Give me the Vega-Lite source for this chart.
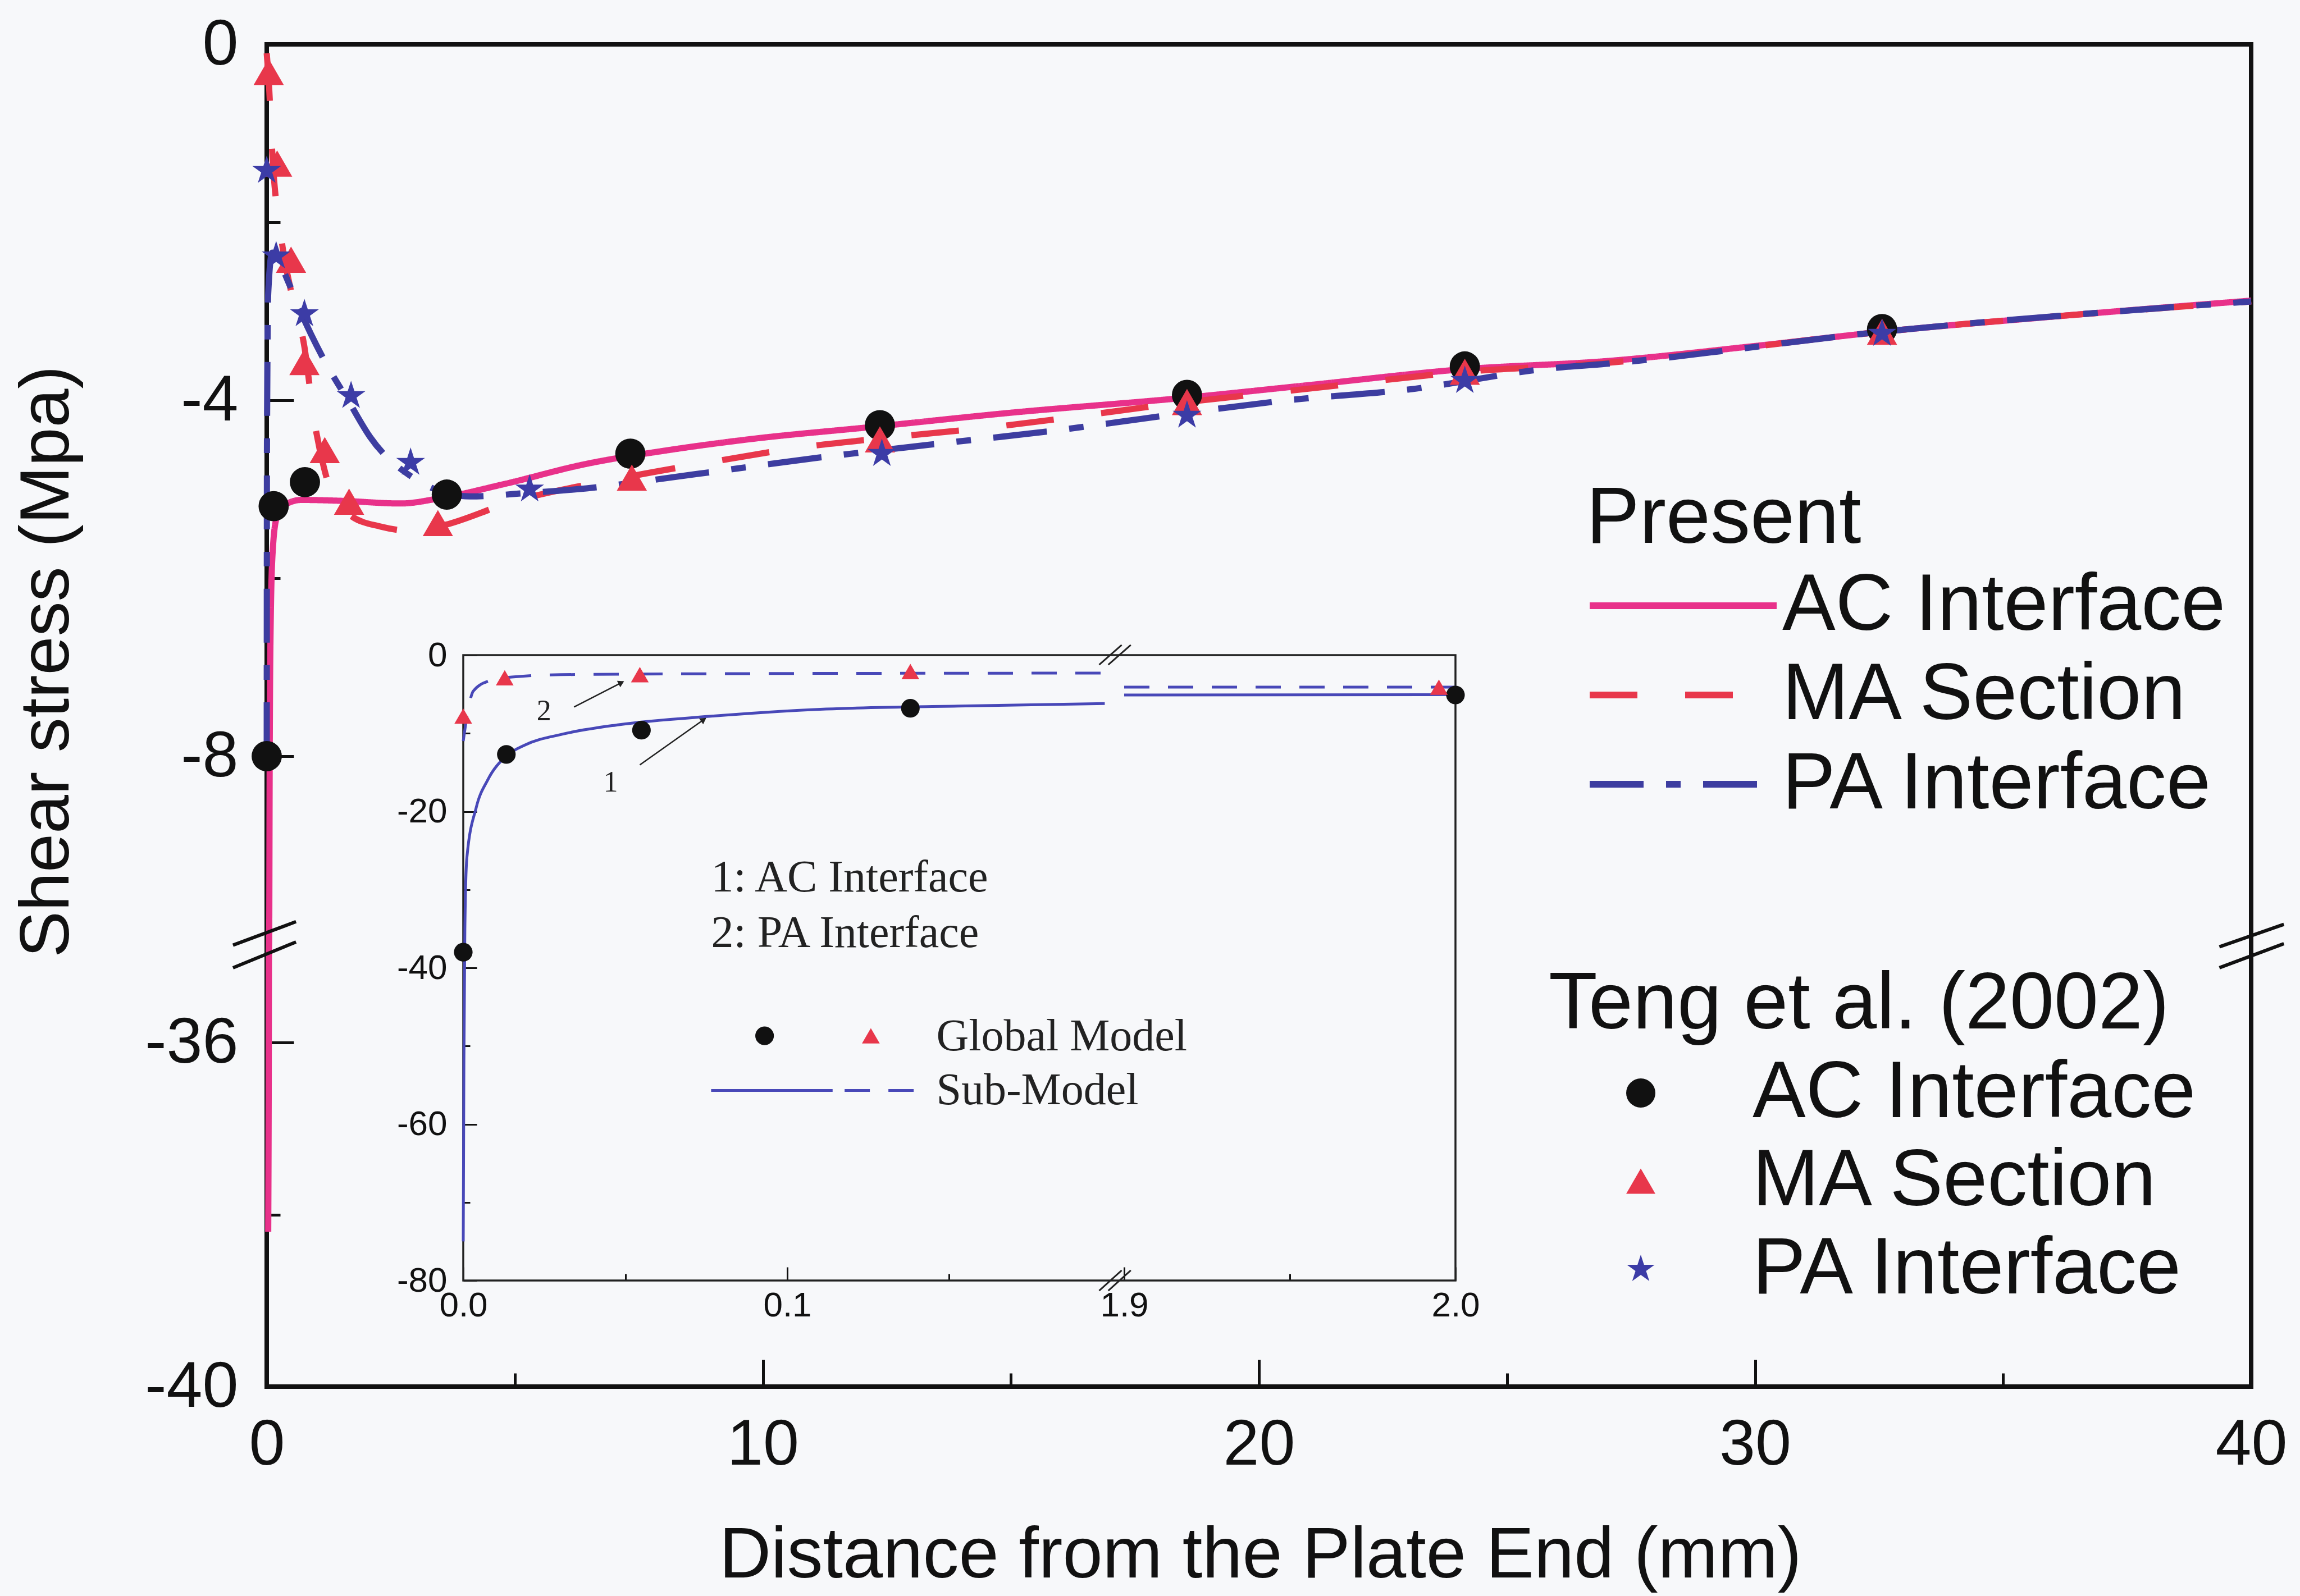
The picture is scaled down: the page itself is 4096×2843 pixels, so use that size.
{
  "$schema": "https://vega.github.io/schema/vega-lite/v6.json",
  "width": 3534,
  "height": 2391,
  "autosize": {"type": "none"},
  "padding": {"left": 475, "top": 79, "right": 87, "bottom": 373},
  "background": "#F7F8FA",
  "config": {
    "font": "Liberation Sans",
    "view": {"stroke": "#111111", "strokeWidth": 8},
    "axis": {"domain": false, "grid": false, "tickColor": "#111111", "labelColor": "#111111", "titleColor": "#111111", "titleFontWeight": "normal", "labelFont": "Liberation Sans", "titleFont": "Liberation Sans", "labelFlush": false, "labelOverlap": false, "labelLimit": 2000, "titleLimit": 4000},
    "legend": {"titleFontWeight": "normal", "titleColor": "#111111", "labelColor": "#111111", "titleFont": "Liberation Sans", "labelFont": "Liberation Sans", "padding": 0, "labelLimit": 2000, "titleLimit": 2000}
  },
  "layer": [
    {
      "layer": [
        {
          "data": {"values": [
            {"present": "AC Interface", "x": 0.03, "y": -38.2}, {"present": "AC Interface", "x": 0.04, "y": -36.5}, {"present": "AC Interface", "x": 0.045, "y": -35}, {"present": "AC Interface", "x": 0.05, "y": -10}, {"present": "AC Interface", "x": 0.06, "y": -8}, {"present": "AC Interface", "x": 0.08, "y": -6.5}, {"present": "AC Interface", "x": 0.12, "y": -5.7}, {"present": "AC Interface", "x": 0.2, "y": -5.32}, {"present": "AC Interface", "x": 0.35, "y": -5.18}, {"present": "AC Interface", "x": 0.7, "y": -5.12}, {"present": "AC Interface", "x": 1.5, "y": -5.13}, {"present": "AC Interface", "x": 2.7, "y": -5.16}, {"present": "AC Interface", "x": 3.5, "y": -5.1}, {"present": "AC Interface", "x": 4.8, "y": -4.94}, {"present": "AC Interface", "x": 6.4, "y": -4.72}, {"present": "AC Interface", "x": 8.1, "y": -4.56}, {"present": "AC Interface", "x": 9.7, "y": -4.44}, {"present": "AC Interface", "x": 12.2, "y": -4.3}, {"present": "AC Interface", "x": 15, "y": -4.14}, {"present": "AC Interface", "x": 18.55, "y": -3.97}, {"present": "AC Interface", "x": 21, "y": -3.83}, {"present": "AC Interface", "x": 24.15, "y": -3.65}, {"present": "AC Interface", "x": 27, "y": -3.56}, {"present": "AC Interface", "x": 30, "y": -3.39}, {"present": "AC Interface", "x": 32.56, "y": -3.23}, {"present": "AC Interface", "x": 36, "y": -3.06}, {"present": "AC Interface", "x": 40, "y": -2.88},
            {"present": "MA Section", "x": 0, "y": -0.1}, {"present": "MA Section", "x": 0.05, "y": -0.5}, {"present": "MA Section", "x": 0.1, "y": -1.1}, {"present": "MA Section", "x": 0.3, "y": -2.2}, {"present": "MA Section", "x": 0.5, "y": -2.8}, {"present": "MA Section", "x": 0.76, "y": -3.4}, {"present": "MA Section", "x": 0.95, "y": -4.2}, {"present": "MA Section", "x": 1.15, "y": -4.75}, {"present": "MA Section", "x": 1.35, "y": -5.1}, {"present": "MA Section", "x": 1.7, "y": -5.3}, {"present": "MA Section", "x": 2.3, "y": -5.42}, {"present": "MA Section", "x": 3.0, "y": -5.47}, {"present": "MA Section", "x": 3.6, "y": -5.4}, {"present": "MA Section", "x": 4.9, "y": -5.15}, {"present": "MA Section", "x": 7.1, "y": -4.88}, {"present": "MA Section", "x": 9.0, "y": -4.69}, {"present": "MA Section", "x": 10.9, "y": -4.52}, {"present": "MA Section", "x": 12.36, "y": -4.43}, {"present": "MA Section", "x": 14.8, "y": -4.29}, {"present": "MA Section", "x": 18.55, "y": -4.02}, {"present": "MA Section", "x": 21, "y": -3.87}, {"present": "MA Section", "x": 24.15, "y": -3.68}, {"present": "MA Section", "x": 27, "y": -3.58}, {"present": "MA Section", "x": 32.56, "y": -3.23}, {"present": "MA Section", "x": 40, "y": -2.89},
            {"present": "PA Interface", "x": 0, "y": -8.0}, {"present": "PA Interface", "x": 0.005, "y": -4.5}, {"present": "PA Interface", "x": 0.03, "y": -2.8}, {"present": "PA Interface", "x": 0.11, "y": -2.34}, {"present": "PA Interface", "x": 0.45, "y": -2.69}, {"present": "PA Interface", "x": 0.68, "y": -3.0}, {"present": "PA Interface", "x": 1.14, "y": -3.53}, {"present": "PA Interface", "x": 1.67, "y": -4.03}, {"present": "PA Interface", "x": 2.08, "y": -4.41}, {"present": "PA Interface", "x": 2.95, "y": -4.87}, {"present": "PA Interface", "x": 4.1, "y": -5.08}, {"present": "PA Interface", "x": 5.3, "y": -5.04}, {"present": "PA Interface", "x": 6.25, "y": -5.0}, {"present": "PA Interface", "x": 8.65, "y": -4.83}, {"present": "PA Interface", "x": 11.05, "y": -4.65}, {"present": "PA Interface", "x": 13.35, "y": -4.5}, {"present": "PA Interface", "x": 15.75, "y": -4.35}, {"present": "PA Interface", "x": 18.55, "y": -4.14}, {"present": "PA Interface", "x": 20.57, "y": -4.0}, {"present": "PA Interface", "x": 23.0, "y": -3.88}, {"present": "PA Interface", "x": 25.9, "y": -3.64}, {"present": "PA Interface", "x": 27, "y": -3.59}, {"present": "PA Interface", "x": 32.56, "y": -3.23}, {"present": "PA Interface", "x": 40, "y": -2.89}
          ]},
          "mark": {"type": "line", "strokeWidth": 11, "interpolate": "monotone", "strokeCap": "butt"},
          "encoding": {
            "x": {"field": "x", "type": "quantitative", "scale": {"domain": [0, 40], "nice": false, "zero": false},
              "axis": {"orient": "bottom", "values": [0, 10, 20, 30, 40], "tickSize": -48, "tickWidth": 5, "labelFontSize": 115, "labelPadding": 151, "labelBaseline": "middle", "title": "Distance from the Plate End (mm)", "titleFontSize": 128, "titleX": 1769, "titleY": 301, "titleAlign": "center", "titleBaseline": "middle"}},
            "y": {"field": "y", "type": "quantitative", "scale": {"domain": [-40, -35, -10, 0], "range": [2391, 1625, 1585, 0], "nice": false, "zero": false},
              "axis": {"orient": "left", "values": [0, -4, -8, -36, -40], "labelExpr": "'' + datum.value", "tickSize": -48, "tickWidth": 5, "labelFontSize": 115, "labelPadding": 99, "title": "Shear stress (Mpa)", "titleFontSize": 124, "titleX": -391, "titleY": 1099, "titleAngle": 270, "titleAlign": "center", "titleBaseline": "middle"}},
            "color": {"field": "present", "type": "nominal", "scale": {"domain": ["AC Interface", "MA Section", "PA Interface"], "range": ["#E8318A", "#E8374B", "#3D3DA0"]},
              "legend": {"title": "Present", "orient": "none", "legendX": 2350, "legendY": 776, "titleFontSize": 142, "labelFontSize": 142, "symbolSize": 110889, "symbolStrokeWidth": 12, "clipHeight": 110, "rowPadding": 17, "titlePadding": 27, "labelOffset": 4, "symbolOffset": 0}},
            "strokeDash": {"field": "present", "type": "nominal", "scale": {"domain": ["AC Interface", "MA Section", "PA Interface"], "range": [[1, 0], [85, 85], [96, 40, 26, 40]]},
              "legend": {"title": "Present", "orient": "none", "legendX": 2350, "legendY": 776, "titleFontSize": 142, "labelFontSize": 142, "symbolSize": 110889, "symbolStrokeWidth": 12, "clipHeight": 110, "rowPadding": 17, "titlePadding": 27, "labelOffset": 4, "symbolOffset": 0}}
          }
        },
        {
          "data": {"values": [
            {"teng": "AC Interface", "x": 0.0, "y": -8.0}, {"teng": "AC Interface", "x": 0.14, "y": -5.19}, {"teng": "AC Interface", "x": 0.77, "y": -4.92}, {"teng": "AC Interface", "x": 3.63, "y": -5.06}, {"teng": "AC Interface", "x": 7.33, "y": -4.6}, {"teng": "AC Interface", "x": 12.36, "y": -4.28}, {"teng": "AC Interface", "x": 18.55, "y": -3.94}, {"teng": "AC Interface", "x": 24.15, "y": -3.62}, {"teng": "AC Interface", "x": 32.56, "y": -3.2},
            {"teng": "MA Section", "x": 0.04, "y": -0.31}, {"teng": "MA Section", "x": 0.21, "y": -1.34}, {"teng": "MA Section", "x": 0.49, "y": -2.42}, {"teng": "MA Section", "x": 0.76, "y": -3.57}, {"teng": "MA Section", "x": 1.17, "y": -4.56}, {"teng": "MA Section", "x": 1.66, "y": -5.14}, {"teng": "MA Section", "x": 3.45, "y": -5.38}, {"teng": "MA Section", "x": 7.36, "y": -4.87}, {"teng": "MA Section", "x": 12.36, "y": -4.44}, {"teng": "MA Section", "x": 18.55, "y": -4.02}, {"teng": "MA Section", "x": 24.15, "y": -3.68}, {"teng": "MA Section", "x": 32.56, "y": -3.23},
            {"teng": "PA Interface", "x": 0.0, "y": -1.42}, {"teng": "PA Interface", "x": 0.19, "y": -2.38}, {"teng": "PA Interface", "x": 0.76, "y": -3.03}, {"teng": "PA Interface", "x": 1.7, "y": -3.95}, {"teng": "PA Interface", "x": 2.9, "y": -4.7}, {"teng": "PA Interface", "x": 5.3, "y": -5.0}, {"teng": "PA Interface", "x": 12.4, "y": -4.6}, {"teng": "PA Interface", "x": 18.55, "y": -4.17}, {"teng": "PA Interface", "x": 24.15, "y": -3.78}, {"teng": "PA Interface", "x": 32.56, "y": -3.25}
          ]},
          "mark": {"type": "point", "filled": true, "opacity": 1, "size": 2900, "strokeWidth": 0},
          "encoding": {
            "x": {"field": "x", "type": "quantitative", "scale": {"domain": [0, 40], "nice": false, "zero": false}, "axis": null},
            "y": {"field": "y", "type": "quantitative", "scale": {"domain": [-40, -35, -10, 0], "range": [2391, 1625, 1585, 0], "nice": false, "zero": false}, "axis": null},
            "color": {"field": "teng", "type": "nominal", "scale": {"domain": ["AC Interface", "MA Section", "PA Interface"], "range": ["#111111", "#E8374B", "#3C3CA6"]},
              "legend": {"title": "Teng et al. (2002)", "orient": "none", "legendX": 2283, "legendY": 1641, "titleFontSize": 142, "labelFontSize": 142, "symbolSize": 2700, "clipHeight": 110, "rowPadding": 15, "titlePadding": 30, "symbolOffset": 93, "labelOffset": 128}},
            "shape": {"field": "teng", "type": "nominal", "scale": {"domain": ["AC Interface", "MA Section", "PA Interface"], "range": ["circle", "triangle-up", "M0,-1L0.2245,-0.309L0.9511,-0.309L0.3633,0.118L0.5878,0.809L0,0.382L-0.5878,0.809L-0.3633,0.118L-0.9511,-0.309L-0.2245,-0.309Z"]},
              "legend": {"title": "Teng et al. (2002)", "orient": "none", "legendX": 2283, "legendY": 1641, "titleFontSize": 142, "labelFontSize": 142, "symbolSize": 2700, "clipHeight": 110, "rowPadding": 15, "titlePadding": 30, "symbolOffset": 93, "labelOffset": 128}}
          }
        },
        {
          "data": {"values": [{}]},
          "mark": {"type": "rule", "stroke": "#111111", "strokeWidth": 6},
          "encoding": {
            "x": {"datum": -0.68, "type": "quantitative", "scale": {"domain": [0, 40], "nice": false, "zero": false},
              "axis": {"orient": "bottom", "values": [5, 15, 25, 35], "tickSize": -24, "tickWidth": 5, "labels": false, "title": null}},
            "x2": {"datum": 0.59},
            "y": {"datum": -35.13, "type": "quantitative", "scale": {"domain": [-40, -35, -10, 0], "range": [2391, 1625, 1585, 0], "nice": false, "zero": false},
              "axis": {"orient": "left", "values": [-2, -6, -38], "tickSize": -24, "tickWidth": 5, "labels": false, "title": null}},
            "y2": {"datum": -18.7}
          }
        },
        {
          "data": {"values": [{}]},
          "mark": {"type": "rule", "stroke": "#111111", "strokeWidth": 6},
          "encoding": {
            "x": {"datum": -0.68, "type": "quantitative", "scale": {"domain": [0, 40], "nice": false, "zero": false}, "axis": null},
            "x2": {"datum": 0.59},
            "y": {"datum": -22.25, "type": "quantitative", "scale": {"domain": [-40, -35, -10, 0], "range": [2391, 1625, 1585, 0], "nice": false, "zero": false}, "axis": null},
            "y2": {"datum": -9.86}
          }
        },
        {
          "data": {"values": [{}]},
          "mark": {"type": "rule", "stroke": "#111111", "strokeWidth": 6},
          "encoding": {
            "x": {"datum": 39.36, "type": "quantitative", "scale": {"domain": [0, 40], "nice": false, "zero": false}, "axis": null},
            "x2": {"datum": 40.66},
            "y": {"datum": -35.13, "type": "quantitative", "scale": {"domain": [-40, -35, -10, 0], "range": [2391, 1625, 1585, 0], "nice": false, "zero": false}, "axis": null},
            "y2": {"datum": -20.6}
          }
        },
        {
          "data": {"values": [{}]},
          "mark": {"type": "rule", "stroke": "#111111", "strokeWidth": 6},
          "encoding": {
            "x": {"datum": 39.36, "type": "quantitative", "scale": {"domain": [0, 40], "nice": false, "zero": false}, "axis": null},
            "x2": {"datum": 40.66},
            "y": {"datum": -24.1, "type": "quantitative", "scale": {"domain": [-40, -35, -10, 0], "range": [2391, 1625, 1585, 0], "nice": false, "zero": false}, "axis": null},
            "y2": {"datum": -9.89}
          }
        }
      ],
      "resolve": {"scale": {"color": "independent", "strokeDash": "independent", "shape": "independent"}, "axis": {"x": "independent", "y": "independent"}}
    },
    {
      "layer": [
        {
          "data": {"values": [{}]},
          "mark": {"type": "rect", "filled": false, "stroke": "#222222", "strokeWidth": 3.5},
          "encoding": {
            "x": {"datum": 0, "type": "quantitative", "scale": {"domain": [0, 0.2, 1.9, 2.0], "range": [350, 1504, 1527, 2117], "nice": false, "zero": false},
              "axis": {"orient": "bottom", "offset": -189, "values": [0, 0.1, 1.9, 2.0], "format": ".1f", "tickSize": -24, "tickWidth": 3, "labelFontSize": 62, "labelPadding": 68, "labelBaseline": "middle", "title": null}},
            "x2": {"datum": 2.0},
            "y": {"datum": 0, "type": "quantitative", "scale": {"domain": [-80, 0], "range": [2202, 1088], "nice": false, "zero": false},
              "axis": {"orient": "left", "offset": -350, "values": [0, -20, -40, -60, -80], "labelExpr": "'' + datum.value", "tickSize": -24, "tickWidth": 3, "labelFontSize": 62, "labelPadding": 53, "title": null}},
            "y2": {"datum": -80}
          }
        },
        {
          "data": {"values": [{}]},
          "mark": {"type": "rule", "stroke": "#222222", "strokeWidth": 3},
          "encoding": {
            "x": {"datum": 0.19627, "type": "quantitative", "scale": {"domain": [0, 0.2, 1.9, 2.0], "range": [350, 1504, 1527, 2117], "nice": false, "zero": false},
              "axis": {"orient": "bottom", "offset": -189, "values": [0.05, 0.15, 1.95], "tickSize": -12, "tickWidth": 3, "labels": false, "title": null}},
            "x2": {"datum": 1.575},
            "y": {"datum": -1.23, "type": "quantitative", "scale": {"domain": [-80, 0], "range": [2202, 1088], "nice": false, "zero": false},
              "axis": {"orient": "left", "offset": -350, "values": [-10, -30, -50, -70], "tickSize": -12, "tickWidth": 3, "labels": false, "title": null}},
            "y2": {"datum": 1.3}
          }
        },
        {
          "data": {"values": [{}]},
          "mark": {"type": "rule", "stroke": "#222222", "strokeWidth": 3},
          "encoding": {
            "x": {"datum": 0.19908, "type": "quantitative", "axis": null},
            "x2": {"datum": 1.902},
            "y": {"datum": -1.23, "type": "quantitative", "axis": null},
            "y2": {"datum": 1.3}
          }
        },
        {
          "data": {"values": [{}]},
          "mark": {"type": "rule", "stroke": "#222222", "strokeWidth": 3},
          "encoding": {
            "x": {"datum": 0.19627, "type": "quantitative", "axis": null},
            "x2": {"datum": 1.575},
            "y": {"datum": -81.3, "type": "quantitative", "axis": null},
            "y2": {"datum": -78.7}
          }
        },
        {
          "data": {"values": [{}]},
          "mark": {"type": "rule", "stroke": "#222222", "strokeWidth": 3},
          "encoding": {
            "x": {"datum": 0.19908, "type": "quantitative", "axis": null},
            "x2": {"datum": 1.902},
            "y": {"datum": -81.3, "type": "quantitative", "axis": null},
            "y2": {"datum": -78.7}
          }
        },
        {
          "data": {"values": [
            {"seg": "a", "x": 0, "y": -75}, {"seg": "a", "x": 0.0002, "y": -52}, {"seg": "a", "x": 0.0005, "y": -35}, {"seg": "a", "x": 0.0011, "y": -26}, {"seg": "a", "x": 0.004, "y": -19.5}, {"seg": "a", "x": 0.0075, "y": -16}, {"seg": "a", "x": 0.0133, "y": -12.9}, {"seg": "a", "x": 0.019, "y": -11.5}, {"seg": "a", "x": 0.0307, "y": -10.1}, {"seg": "a", "x": 0.048, "y": -8.9}, {"seg": "a", "x": 0.077, "y": -7.8}, {"seg": "a", "x": 0.112, "y": -6.9}, {"seg": "a", "x": 0.155, "y": -6.5}, {"seg": "a", "x": 0.198, "y": -6.2},
            {"seg": "b", "x": 1.9, "y": -5.1}, {"seg": "b", "x": 2.0, "y": -5.05}
          ]},
          "mark": {"type": "line", "stroke": "#4848B8", "strokeWidth": 5, "interpolate": "monotone"},
          "encoding": {
            "x": {"field": "x", "type": "quantitative", "axis": null},
            "y": {"field": "y", "type": "quantitative", "axis": null},
            "detail": {"field": "seg"}
          }
        },
        {
          "data": {"values": [
            {"seg": "a", "x": 0, "y": -11}, {"seg": "a", "x": 0.0015, "y": -7}, {"seg": "a", "x": 0.0031, "y": -4.6}, {"seg": "a", "x": 0.008, "y": -3.3}, {"seg": "a", "x": 0.015, "y": -2.8}, {"seg": "a", "x": 0.03, "y": -2.5}, {"seg": "a", "x": 0.1, "y": -2.35}, {"seg": "a", "x": 0.198, "y": -2.3},
            {"seg": "b", "x": 1.9, "y": -4.1}, {"seg": "b", "x": 2.0, "y": -4.1}
          ]},
          "mark": {"type": "line", "stroke": "#4848B8", "strokeWidth": 5, "strokeDash": [45, 33], "interpolate": "monotone"},
          "encoding": {
            "x": {"field": "x", "type": "quantitative", "axis": null},
            "y": {"field": "y", "type": "quantitative", "axis": null},
            "detail": {"field": "seg"}
          }
        },
        {
          "data": {"values": [
            {"x": 0.0, "y": -38.0}, {"x": 0.0133, "y": -12.7}, {"x": 0.055, "y": -9.6}, {"x": 0.138, "y": -6.8}, {"x": 2.0, "y": -5.1}
          ]},
          "mark": {"type": "point", "shape": "circle", "filled": true, "opacity": 1, "color": "#111111", "size": 1100, "strokeWidth": 0},
          "encoding": {
            "x": {"field": "x", "type": "quantitative", "axis": null},
            "y": {"field": "y", "type": "quantitative", "axis": null}
          }
        },
        {
          "data": {"values": [
            {"x": 0.0, "y": -7.8}, {"x": 0.0128, "y": -2.9}, {"x": 0.0545, "y": -2.5}, {"x": 0.138, "y": -2.1}, {"x": 1.995, "y": -4.1}
          ]},
          "mark": {"type": "point", "shape": "triangle-up", "filled": true, "opacity": 1, "color": "#E8374B", "size": 1000, "strokeWidth": 0},
          "encoding": {
            "x": {"field": "x", "type": "quantitative", "axis": null},
            "y": {"field": "y", "type": "quantitative", "axis": null}
          }
        },
        {
          "data": {"values": [{}]},
          "mark": {"type": "point", "shape": "circle", "filled": true, "opacity": 1, "color": "#111111", "size": 1100, "strokeWidth": 0},
          "encoding": {"x": {"datum": 0.093, "type": "quantitative", "axis": null}, "y": {"datum": -48.7, "type": "quantitative", "axis": null}}
        },
        {
          "data": {"values": [{}]},
          "mark": {"type": "point", "shape": "triangle-up", "filled": true, "opacity": 1, "color": "#E8374B", "size": 1000, "strokeWidth": 0},
          "encoding": {"x": {"datum": 0.1258, "type": "quantitative", "axis": null}, "y": {"datum": -48.7, "type": "quantitative", "axis": null}}
        },
        {
          "data": {"values": [{}]},
          "mark": {"type": "rule", "stroke": "#4848B8", "strokeWidth": 5},
          "encoding": {"x": {"datum": 0.0765, "type": "quantitative", "axis": null}, "x2": {"datum": 0.114}, "y": {"datum": -55.7, "type": "quantitative", "axis": null}}
        },
        {
          "data": {"values": [{}]},
          "mark": {"type": "rule", "stroke": "#4848B8", "strokeWidth": 5, "strokeDash": [45, 33]},
          "encoding": {"x": {"datum": 0.1177, "type": "quantitative", "axis": null}, "x2": {"datum": 0.1408}, "y": {"datum": -55.7, "type": "quantitative", "axis": null}}
        },
        {
          "data": {"values": [{}]},
          "mark": {"type": "rule", "stroke": "#222222", "strokeWidth": 2.5},
          "encoding": {"x": {"datum": 0.0342, "type": "quantitative", "axis": null}, "x2": {"datum": 0.0493}, "y": {"datum": -6.64, "type": "quantitative", "axis": null}, "y2": {"datum": -3.42}}
        },
        {
          "data": {"values": [{}]},
          "mark": {"type": "point", "shape": "triangle-right", "filled": true, "opacity": 1, "color": "#222222", "size": 160, "strokeWidth": 0, "angle": -27},
          "encoding": {"x": {"datum": 0.0488, "type": "quantitative", "axis": null}, "y": {"datum": -3.52, "type": "quantitative", "axis": null}}
        },
        {
          "data": {"values": [{}]},
          "mark": {"type": "rule", "stroke": "#222222", "strokeWidth": 2.5},
          "encoding": {"x": {"datum": 0.0545, "type": "quantitative", "axis": null}, "x2": {"datum": 0.0748}, "y": {"datum": -14.04, "type": "quantitative", "axis": null}, "y2": {"datum": -8.08}}
        },
        {
          "data": {"values": [{}]},
          "mark": {"type": "point", "shape": "triangle-right", "filled": true, "opacity": 1, "color": "#222222", "size": 160, "strokeWidth": 0, "angle": -35},
          "encoding": {"x": {"datum": 0.0742, "type": "quantitative", "axis": null}, "y": {"datum": -8.25, "type": "quantitative", "axis": null}}
        },
        {
          "data": {"values": [{}]},
          "mark": {"type": "text", "text": "1: AC Interface", "font": "Liberation Serif", "fontSize": 80, "align": "left", "baseline": "middle", "color": "#222222"},
          "encoding": {"x": {"datum": 0.0765, "type": "quantitative", "axis": null}, "y": {"datum": -28.5, "type": "quantitative", "axis": null}}
        },
        {
          "data": {"values": [{}]},
          "mark": {"type": "text", "text": "2: PA Interface", "font": "Liberation Serif", "fontSize": 80, "align": "left", "baseline": "middle", "color": "#222222"},
          "encoding": {"x": {"datum": 0.0765, "type": "quantitative", "axis": null}, "y": {"datum": -35.6, "type": "quantitative", "axis": null}}
        },
        {
          "data": {"values": [{}]},
          "mark": {"type": "text", "text": "Global Model", "font": "Liberation Serif", "fontSize": 80, "align": "left", "baseline": "middle", "color": "#222222"},
          "encoding": {"x": {"datum": 0.146, "type": "quantitative", "axis": null}, "y": {"datum": -48.8, "type": "quantitative", "axis": null}}
        },
        {
          "data": {"values": [{}]},
          "mark": {"type": "text", "text": "Sub-Model", "font": "Liberation Serif", "fontSize": 80, "align": "left", "baseline": "middle", "color": "#222222"},
          "encoding": {"x": {"datum": 0.146, "type": "quantitative", "axis": null}, "y": {"datum": -55.7, "type": "quantitative", "axis": null}}
        },
        {
          "data": {"values": [{}]},
          "mark": {"type": "text", "text": "2", "font": "Liberation Serif", "fontSize": 52, "align": "center", "baseline": "middle", "color": "#222222"},
          "encoding": {"x": {"datum": 0.0249, "type": "quantitative", "axis": null}, "y": {"datum": -7.2, "type": "quantitative", "axis": null}}
        },
        {
          "data": {"values": [{}]},
          "mark": {"type": "text", "text": "1", "font": "Liberation Serif", "fontSize": 52, "align": "center", "baseline": "middle", "color": "#222222"},
          "encoding": {"x": {"datum": 0.0455, "type": "quantitative", "axis": null}, "y": {"datum": -16.3, "type": "quantitative", "axis": null}}
        }
      ],
      "resolve": {"axis": {"x": "independent", "y": "independent"}}
    }
  ],
  "resolve": {"scale": {"x": "independent", "y": "independent"}}
}
